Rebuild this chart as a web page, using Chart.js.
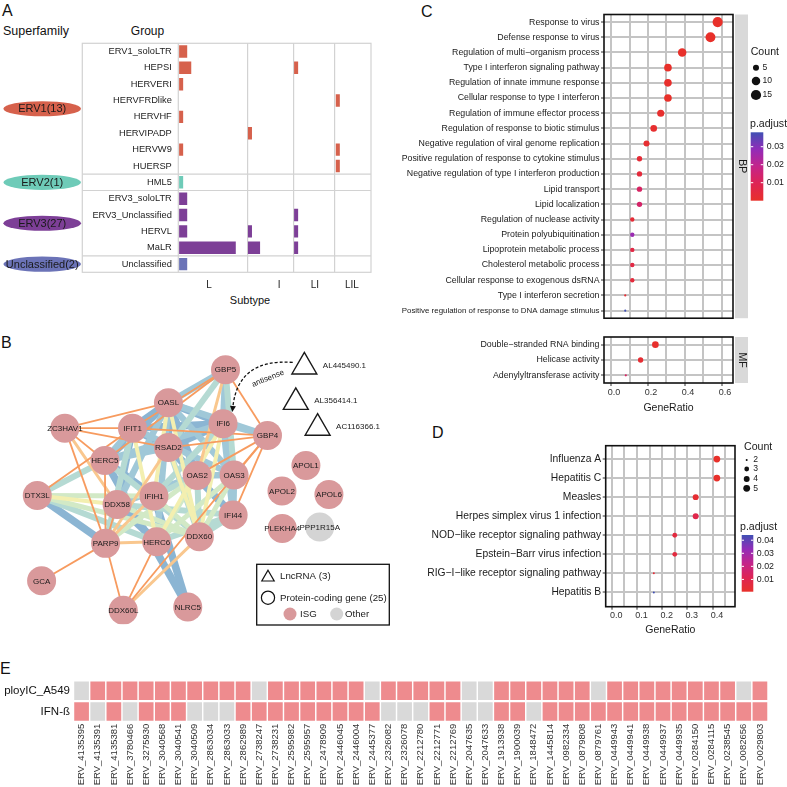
<!DOCTYPE html>
<html>
<head>
<meta charset="utf-8">
<script src="https://cdn.jsdelivr.net/npm/chart.js@4.4.1/dist/chart.umd.min.js"></script>
<style>
  body { margin: 0; background: #fff; }
  #page { position: relative; width: 787px; height: 787px; overflow: hidden; font-family: "Liberation Sans", Arial, sans-serif; color: #111; }
  #page canvas { position: absolute; }
  .txt { position: absolute; white-space: nowrap; line-height: 1; }
</style>
</head>
<body>
<div id="page">
  <div class="txt" style="left:2px;top:3px;font-size:16px">A</div>
  <div class="txt" style="left:3px;top:25px;font-size:12.5px">Superfamily</div>
  <div class="txt" style="left:147.5px;top:25px;font-size:12px;transform:translateX(-50%)">Group</div>
  <div class="txt" style="left:250px;top:294.5px;font-size:11px;transform:translateX(-50%)">Subtype</div>
  <div class="txt" style="left:1px;top:335px;font-size:16px">B</div>
  <div class="txt" style="left:421px;top:4px;font-size:16px">C</div>
  <div class="txt" style="left:432px;top:425px;font-size:16px">D</div>
  <div class="txt" style="left:0px;top:661px;font-size:16px">E</div>

  <canvas id="chartA" width="400" height="310" style="left:0;top:0"></canvas>
  <canvas id="chartB" width="400" height="310" style="left:0;top:330px"></canvas>
  <canvas id="chartC1" width="387" height="325" style="left:400px;top:0"></canvas>
  <canvas id="chartC2" width="387" height="95" style="left:400px;top:325px"></canvas>
  <canvas id="chartD" width="387" height="215" style="left:400px;top:425px"></canvas>
  <canvas id="chartE" width="787" height="132" style="left:0;top:655px"></canvas>
</div>
<script>
// ---------- A: ERV groups by subtype
const groupNames = ['ERV1_soloLTR', 'HEPSI', 'HERVERI', 'HERVFRDlike', 'HERVHF', 'HERVIPADP', 'HERVW9', 'HUERSP',
  'HML5', 'ERV3_soloLTR', 'ERV3_Unclassified', 'HERVL', 'MaLR', 'Unclassified'];
const groupFamily = ['ERV1', 'ERV1', 'ERV1', 'ERV1', 'ERV1', 'ERV1', 'ERV1', 'ERV1',
  'ERV2', 'ERV3', 'ERV3', 'ERV3', 'ERV3', 'Unclassified'];
const familyNames = ['ERV1', 'ERV2', 'ERV3', 'Unclassified'];
const familyTotals = [13, 1, 27, 2];
const subtypeNames = ['L', 'I', 'LI', 'LIL'];
const countL = [2, 3, 1, 0, 1, 0, 1, 0, 1, 2, 2, 2, 14, 2];
const countI = [0, 0, 0, 0, 0, 1, 0, 0, 0, 0, 0, 1, 3, 0];
const countLI = [0, 1, 0, 0, 0, 0, 0, 0, 0, 0, 1, 1, 1, 0];
const countLIL = [0, 0, 0, 1, 0, 0, 1, 1, 0, 0, 0, 0, 0, 0];

// ---------- B: interaction network
const geneNames = ['GBP5', 'OASL', 'IFI6', 'GBP4', 'ZC3HAV1', 'IFIT1', 'RSAD2', 'HERC5', 'OAS2', 'OAS3', 'DTX3L',
  'DDX58', 'IFIH1', 'IFI44', 'DDX60', 'HERC6', 'PARP9', 'GCA', 'DDX60L', 'NLRC5', 'APOL1', 'APOL2', 'APOL6',
  'PLEKHA4', 'PPP1R15A'];
const geneX = [227.7, 165.7, 225, 273.3, 53.3, 126.7, 165.7, 96.7, 197, 237, 23.3, 110, 150, 236, 199.3, 153,
  97.5, 28, 116.7, 186.7, 315, 289, 340, 289.3, 330];
const geneY = [356.7, 393.3, 416.7, 430, 421.7, 421.7, 443.3, 457.7, 474.3, 474, 496.7, 506.7, 497.3, 518.5,
  542.5, 548.3, 550, 591.7, 624.5, 620.8, 463.3, 491.7, 495.7, 533.3, 531.7];
const geneKind = ['ISG', 'ISG', 'ISG', 'ISG', 'ISG', 'ISG', 'ISG', 'ISG', 'ISG', 'ISG', 'ISG', 'ISG', 'ISG', 'ISG',
  'ISG', 'ISG', 'ISG', 'ISG', 'ISG', 'ISG', 'ISG', 'ISG', 'ISG', 'ISG', 'Other'];
const lncNames = ['AL445490.1', 'AL356414.1', 'AC116366.1'];
const lncX = [313.3, 304, 327.7];
const lncY = [353.4, 392.8, 421.6];
// edges grouped from weakest (0) to strongest (6) score
const edgeTier0 = [['ZC3HAV1', 'OASL'], ['ZC3HAV1', 'IFIT1'], ['ZC3HAV1', 'RSAD2'], ['ZC3HAV1', 'HERC5'],
  ['ZC3HAV1', 'PARP9'], ['GBP5', 'GBP4'], ['GBP5', 'IFIT1'], ['GBP5', 'HERC5'], ['GBP4', 'IFIT1'], ['GBP4', 'RSAD2'],
  ['GBP4', 'OAS3'], ['GBP4', 'IFI44'], ['GBP4', 'DDX60L'], ['GBP4', 'OAS2'], ['PARP9', 'GCA'], ['PARP9', 'DDX60L'],
  ['PARP9', 'HERC5'], ['PARP9', 'DDX58'], ['HERC6', 'DDX60L'], ['DTX3L', 'IFIT1']];
const edgeTier1 = [['PARP9', 'HERC6'], ['PARP9', 'RSAD2'], ['ZC3HAV1', 'DDX58'], ['DDX60L', 'DDX60'], ['GBP5', 'OAS2'],
  ['PARP9', 'IFIH1']];
const edgeTier2 = [['OASL', 'IFIH1'], ['RSAD2', 'DDX60'], ['IFI6', 'HERC6'], ['OASL', 'DDX60'], ['DTX3L', 'DDX58'],
  ['IFI6', 'DDX60'], ['IFIT1', 'HERC6']];
const edgeTier3 = [['DTX3L', 'IFIH1'], ['DTX3L', 'DDX60'], ['DDX60', 'IFIH1'], ['DDX60', 'OAS3'], ['HERC6', 'OAS2'],
  ['PARP9', 'OAS2'], ['DDX60', 'DDX58'], ['HERC6', 'OAS3']];
const edgeTier4 = [['GBP5', 'OAS3'], ['GBP5', 'RSAD2'], ['DTX3L', 'HERC5'], ['DTX3L', 'HERC6'], ['DDX60', 'IFI44'],
  ['DDX60', 'OAS2'], ['DDX60', 'HERC5'], ['DDX60', 'RSAD2'], ['IFIH1', 'OAS2'], ['HERC6', 'IFI44'], ['PARP9', 'IFIT1'],
  ['IFIH1', 'IFI6'], ['DDX58', 'IFI44']];
const edgeTier5 = [['GBP5', 'OASL'], ['GBP5', 'IFI6'], ['IFI6', 'GBP4'], ['OASL', 'GBP4'], ['HERC5', 'IFI6'],
  ['HERC5', 'RSAD2'], ['OASL', 'OAS3'], ['IFI6', 'IFI44'], ['OAS2', 'OAS3'], ['OAS3', 'IFI44'], ['IFIT1', 'HERC5'],
  ['OASL', 'DDX58'], ['DDX58', 'OAS2'], ['HERC6', 'OASL'], ['IFIT1', 'OAS3']];
const edgeTier6 = [['OASL', 'IFI6'], ['OASL', 'RSAD2'], ['OASL', 'IFIT1'], ['OASL', 'HERC5'], ['IFIT1', 'IFI6'],
  ['IFIT1', 'RSAD2'], ['IFIT1', 'DDX58'], ['RSAD2', 'IFI6'], ['RSAD2', 'OAS2'], ['IFI6', 'OAS3'], ['OASL', 'OAS2'],
  ['DTX3L', 'PARP9'], ['HERC5', 'NLRC5'], ['IFIH1', 'NLRC5'], ['HERC5', 'IFIH1'], ['DDX58', 'HERC6'], ['RSAD2', 'IFI44']];

// ---------- C: GO enrichment
const bpTerms = ['Response to virus', 'Defense response to virus', 'Regulation of multi\u2212organism process',
  'Type I interferon signaling pathway', 'Regulation of innate immune response',
  'Cellular response to type I interferon', 'Regulation of immune effector process',
  'Regulation of response to biotic stimulus', 'Negative regulation of viral genome replication',
  'Positive regulation of response to cytokine stimulus', 'Negative regulation of type I interferon production',
  'Lipid transport', 'Lipid localization', 'Regulation of nuclease activity', 'Protein polyubiquitination',
  'Lipoprotein metabolic process', 'Cholesterol metabolic process', 'Cellular response to exogenous dsRNA',
  'Type I interferon secretion', 'Positive regulation of response to DNA damage stimulus'];
const bpRatio = [0.577, 0.538, 0.385, 0.308, 0.308, 0.308, 0.269, 0.231, 0.192, 0.154, 0.154, 0.154, 0.154,
  0.115, 0.115, 0.115, 0.115, 0.115, 0.077, 0.077];
const bpCount = [15, 14, 10, 8, 8, 8, 7, 6, 5, 4, 4, 4, 4, 3, 3, 3, 3, 3, 2, 2];
const bpPadj = [1e-9, 1e-8, 2e-5, 1e-6, 4e-4, 1e-6, 8e-4, 0.0012, 0.0015, 0.003, 0.004, 0.012, 0.013, 0.003,
  0.027, 0.006, 0.006, 0.004, 0.002, 0.038];
const mfTerms = ['Double\u2212stranded RNA binding', 'Helicase activity', 'Adenylyltransferase activity'];
const mfRatio = [0.24, 0.16, 0.08];
const mfCount = [6, 4, 2];
const mfPadj = [5e-4, 0.002, 0.012];
const goRatioTicks = [0, 0.1, 0.2, 0.3, 0.4, 0.5, 0.6];
const goCountBreaks = [5, 10, 15];
const goPadjBreaks = [0.01, 0.02, 0.03];

// ---------- D: KEGG enrichment
const keggTerms = ['Influenza A', 'Hepatitis C', 'Measles', 'Herpes simplex virus 1 infection',
  'NOD\u2212like receptor signaling pathway', 'Epstein\u2212Barr virus infection',
  'RIG\u2212I\u2212like receptor signaling pathway', 'Hepatitis B'];
const keggRatio = [0.417, 0.417, 0.333, 0.333, 0.25, 0.25, 0.167, 0.167];
const keggCount = [5, 5, 4, 4, 3, 3, 2, 2];
const keggPadj = [6e-4, 8e-4, 0.003, 0.009, 0.006, 0.006, 0.004, 0.044];
const keggRatioTicks = [0, 0.05, 0.1, 0.15, 0.2, 0.25, 0.3, 0.35, 0.4, 0.45];
const keggCountBreaks = [2, 3, 4, 5];
const keggPadjBreaks = [0.01, 0.02, 0.03, 0.04];

// ---------- E: ERV induction
const ervIds = ['ERV_4135395', 'ERV_4135391', 'ERV_4135381', 'ERV_3780466', 'ERV_3275930', 'ERV_3040568',
  'ERV_3040541', 'ERV_3040509', 'ERV_2863034', 'ERV_2863033', 'ERV_2862989', 'ERV_2738247', 'ERV_2738231',
  'ERV_2595982', 'ERV_2595957', 'ERV_2478909', 'ERV_2446045', 'ERV_2446004', 'ERV_2445377', 'ERV_2326082',
  'ERV_2326078', 'ERV_2212780', 'ERV_2212771', 'ERV_2212769', 'ERV_2047635', 'ERV_2047633', 'ERV_1913938',
  'ERV_1900039', 'ERV_1848472', 'ERV_1445814', 'ERV_0982334', 'ERV_0879808', 'ERV_0879761', 'ERV_0449943',
  'ERV_0449941', 'ERV_0449938', 'ERV_0449937', 'ERV_0449935', 'ERV_0284150', 'ERV_0284115', 'ERV_0238545',
  'ERV_0082656', 'ERV_0029803'];
const conditionNames = ['ployIC_A549', 'IFN-ß'];
const polyICHit = [0, 1, 1, 1, 1, 1, 1, 1, 1, 1, 1, 0, 1, 1, 1, 1, 1, 1, 0, 1, 1, 1, 1, 1, 0, 0, 1, 1, 1, 1, 1, 1,
  0, 1, 1, 1, 1, 1, 1, 1, 1, 0, 1];
const ifnbHit = [1, 0, 1, 0, 1, 1, 1, 0, 0, 0, 1, 1, 1, 1, 1, 1, 1, 1, 1, 0, 0, 0, 1, 1, 0, 0, 1, 1, 0, 1, 1, 1,
  1, 1, 1, 1, 1, 1, 1, 1, 1, 1, 1];

// ---------- shared setup
const FONT = "'Liberation Sans', Arial, sans-serif";
Chart.defaults.font.family = FONT;
Chart.defaults.color = '#1a1a1a';
Chart.defaults.animation = false;
Chart.defaults.responsive = false;
Chart.defaults.events = [];
Chart.defaults.plugins.legend.display = false;
Chart.defaults.plugins.tooltip.enabled = false;

const padjStops = [[0, [232, 48, 42]], [0.25, [222, 36, 84]], [0.5, [196, 36, 138]], [0.75, [146, 44, 184]],
  [1, [64, 80, 180]]];
function padjColor(t) {
  t = Math.max(0, Math.min(1, t));
  for (let i = 1; i < padjStops.length; i++) {
    const [t1, c1] = padjStops[i];
    if (t <= t1) {
      const [t0, c0] = padjStops[i - 1];
      const f = (t - t0) / (t1 - t0);
      return 'rgb(' + c0.map((v, k) => Math.round(v + (c1[k] - v) * f)).join(',') + ')';
    }
  }
  return 'rgb(' + padjStops[padjStops.length - 1][1].join(',') + ')';
}

const measureCtx = document.createElement('canvas').getContext('2d');
function fitSize(text, size, maxW) {
  measureCtx.font = size + 'px ' + FONT;
  const w = measureCtx.measureText(text || '').width;
  return w > maxW ? size * maxW / w : size;
}

// area-style size scale, like ggplot's scale_size
function makeSize(cLo, cHi, rMin, rMax) {
  return c => rMin + Math.sqrt((c - cLo) / (cHi - cLo)) * (rMax - rMin);
}

// ---------- A
const familyColors = { ERV1: '#d6614c', ERV2: '#6ecbb8', ERV3: '#7d3f97', Unclassified: '#6b73b7' };
const facetEdges = [0, 17, 28.4, 38.7, 47.6];
const facetLabelAt = [7.6, 24.9, 33.75, 42.9];

const frameA = {
  id: 'frameA',
  beforeDatasetsDraw(chart) {
    const { ctx, chartArea: ca, scales: { y } } = chart;
    const left = y.left;
    ctx.save();
    ctx.strokeStyle = '#d2d2d2';
    ctx.lineWidth = 1.2;
    ctx.strokeRect(left, ca.top, ca.right - left, ca.bottom - ca.top);
    ctx.beginPath();
    ctx.moveTo(ca.left, ca.top);
    ctx.lineTo(ca.left, ca.bottom);
    groupFamily.forEach((f, i) => {
      if (i > 0 && f !== groupFamily[i - 1]) {
        const py = (y.getPixelForValue(i - 1) + y.getPixelForValue(i)) / 2;
        ctx.moveTo(left, py);
        ctx.lineTo(ca.right, py);
      }
    });
    ctx.stroke();
    ctx.restore();
  },
  afterDraw(chart) {
    const { ctx, scales: { y } } = chart;
    ctx.save();
    familyNames.forEach((f, k) => {
      const rows = groupFamily.map((g, i) => g === f ? i : -1).filter(i => i >= 0);
      const cy = (y.getPixelForValue(rows[0]) + y.getPixelForValue(rows[rows.length - 1])) / 2;
      ctx.beginPath();
      ctx.ellipse(42.2, cy, 38.8, 7.6, 0, 0, Math.PI * 2);
      ctx.fillStyle = familyColors[f];
      ctx.fill();
      ctx.fillStyle = '#1a1a1a';
      ctx.font = '11px ' + FONT;
      ctx.textAlign = 'center';
      ctx.textBaseline = 'middle';
      ctx.fillText(f + '(' + familyTotals[k] + ')', 42.2, cy + 0.5);
    });
    ctx.restore();
  }
};

new Chart(document.getElementById('chartA'), {
  type: 'bar',
  data: {
    labels: groupNames,
    datasets: [countL, countI, countLI, countLIL].map((cnt, k) => ({
      label: subtypeNames[k],
      data: cnt.map(c => c > 0 ? [facetEdges[k] + 0.2, facetEdges[k] + 0.2 + c] : null),
      backgroundColor: groupFamily.map(f => familyColors[f]),
      borderWidth: 0,
      grouped: false,
      barPercentage: 0.76,
      categoryPercentage: 1
    }))
  },
  options: {
    indexAxis: 'y',
    layout: { padding: { left: 82.3, top: 43.3, right: 29, bottom: 7.7 } },
    scales: {
      x: {
        type: 'linear', bounds: 'data', min: 0, max: 47.6,
        afterBuildTicks: s => {
          s.ticks = facetEdges.slice(1, 4).concat(facetLabelAt).sort((a, b) => a - b).map(v => ({ value: v }));
        },
        afterFit: s => { s.height = 30; },
        border: { display: false },
        grid: {
          drawTicks: false, lineWidth: 1.2,
          color: c => c.tick && facetEdges.includes(c.tick.value) ? '#d2d2d2' : 'rgba(0,0,0,0)'
        },
        ticks: {
          autoSkip: false, maxRotation: 0, padding: 7, font: { size: 10 }, color: '#222',
          callback: v => { const k = facetLabelAt.indexOf(v); return k >= 0 ? subtypeNames[k] : ''; }
        }
      },
      y: {
        type: 'category',
        afterFit: s => { s.width = 96; },
        border: { display: false },
        grid: { display: false, drawTicks: false },
        ticks: { autoSkip: false, padding: 6.5, font: { size: 9.3 }, color: '#222' }
      }
    }
  },
  plugins: [frameA]
});

// ---------- B
const edgeTiers = [edgeTier0, edgeTier1, edgeTier2, edgeTier3, edgeTier4, edgeTier5, edgeTier6];
const tierStyle = [
  { color: '#f79b5f', width: 1.8 },
  { color: '#f9c78e', width: 3 },
  { color: '#f3efb0', width: 4 },
  { color: '#d2e9c6', width: 5 },
  { color: '#b5dad3', width: 6 },
  { color: '#a0c8d8', width: 6.5 },
  { color: '#8bb5d3', width: 7.5 }
];
const geneAt = name => {
  const i = geneNames.indexOf(name);
  return { x: geneX[i], y: geneY[i] };
};
const edgeSets = edgeTiers.flatMap((tier, level) => tier.map(([a, b]) => ({
  type: 'line',
  data: [geneAt(a), geneAt(b)],
  borderColor: tierStyle[level].color,
  borderWidth: tierStyle[level].width,
  pointRadius: 0,
  tension: 0,
  order: 10 + level
})));

const netDecor = {
  id: 'netDecor',
  afterDatasetsDraw(chart) {
    const { ctx, scales: { x, y } } = chart;
    ctx.save();
    ctx.fillStyle = '#1a1a1a';
    ctx.font = '8px ' + FONT;
    ctx.textAlign = 'center';
    ctx.textBaseline = 'middle';
    geneNames.forEach((g, i) => ctx.fillText(g, x.getPixelForValue(geneX[i]), y.getPixelForValue(geneY[i]) + 0.5));
    ctx.textAlign = 'left';
    lncNames.forEach((g, i) => ctx.fillText(g, x.getPixelForValue(lncX[i]) + 18.5, y.getPixelForValue(lncY[i]) - 1.5));

    // antisense link: first lncRNA -> IFI6
    const t = geneNames.indexOf('IFI6');
    const sx = x.getPixelForValue(lncX[0]) - 11.6, sy = y.getPixelForValue(lncY[0]) - 4.4;
    const ex = x.getPixelForValue(geneX[t]) + 9.3, ey = y.getPixelForValue(geneY[t]) - 11.7;
    const cx = ex + 5.7, cy = sy - 4;
    const ang = Math.atan2(ey - cy, ex - cx);
    ctx.strokeStyle = '#111';
    ctx.lineWidth = 1.3;
    ctx.setLineDash([3, 2]);
    ctx.beginPath();
    ctx.moveTo(sx, sy);
    ctx.quadraticCurveTo(cx, cy, ex - 5 * Math.cos(ang), ey - 5 * Math.sin(ang));
    ctx.stroke();
    ctx.setLineDash([]);
    ctx.fillStyle = '#111';
    ctx.beginPath();
    ctx.moveTo(ex, ey);
    ctx.lineTo(ex - 6 * Math.cos(ang) + 3 * Math.sin(ang), ey - 6 * Math.sin(ang) - 3 * Math.cos(ang));
    ctx.lineTo(ex - 6 * Math.cos(ang) - 3 * Math.sin(ang), ey - 6 * Math.sin(ang) + 3 * Math.cos(ang));
    ctx.closePath();
    ctx.fill();
    const mx = 0.25 * sx + 0.5 * cx + 0.25 * ex, my = 0.25 * sy + 0.5 * cy + 0.25 * ey;
    ctx.save();
    ctx.translate(mx + 17.7, my + 5.7);
    ctx.rotate(-0.38);
    ctx.textAlign = 'center';
    ctx.fillStyle = '#1a1a1a';
    ctx.font = '8px ' + FONT;
    ctx.fillText('antisense', 0, 0);
    ctx.restore();

    // legend box
    ctx.strokeStyle = '#111';
    ctx.lineWidth = 1.3;
    ctx.strokeRect(256.7, 234.3, 132.6, 60.7);
    ctx.lineWidth = 1.2;
    ctx.beginPath();
    ctx.moveTo(268, 240.3);
    ctx.lineTo(274.2, 251);
    ctx.lineTo(261.8, 251);
    ctx.closePath();
    ctx.stroke();
    ctx.beginPath();
    ctx.arc(268, 267.7, 6.6, 0, Math.PI * 2);
    ctx.stroke();
    ctx.fillStyle = '#d9999b';
    ctx.beginPath();
    ctx.arc(290, 284, 6.5, 0, Math.PI * 2);
    ctx.fill();
    ctx.fillStyle = '#d4d4d4';
    ctx.beginPath();
    ctx.arc(336.7, 284, 6.5, 0, Math.PI * 2);
    ctx.fill();
    ctx.fillStyle = '#1a1a1a';
    ctx.font = '9.7px ' + FONT;
    ctx.textAlign = 'left';
    ctx.fillText('LncRNA (3)', 280, 246.5);
    ctx.fillText('Protein-coding gene (25)', 280, 268);
    ctx.fillText('ISG', 300, 284.5);
    ctx.fillText('Other', 345, 284.5);
    ctx.restore();
  }
};

new Chart(document.getElementById('chartB'), {
  type: 'scatter',
  data: {
    datasets: [
      {
        data: geneNames.map((g, i) => ({ x: geneX[i], y: geneY[i] })),
        pointRadius: 14.5,
        pointBackgroundColor: geneKind.map(k => k === 'ISG' ? '#d9999b' : '#d4d4d4'),
        pointBorderWidth: 0,
        order: 0
      },
      {
        data: lncNames.map((g, i) => ({ x: lncX[i], y: lncY[i] })),
        pointStyle: 'triangle',
        pointRadius: 14.4,
        pointBackgroundColor: 'rgba(255,255,255,0)',
        pointBorderColor: '#1a1a1a',
        pointBorderWidth: 1.4,
        order: 0
      },
      ...edgeSets
    ]
  },
  options: {
    layout: { padding: 0 },
    scales: {
      x: { type: 'linear', min: 0, max: 400, display: false },
      y: { type: 'linear', min: 330, max: 640, reverse: true, display: false }
    }
  },
  plugins: [netDecor]
});

// ---------- C & D dot plots
function framePlugin(strip) {
  return {
    id: 'frame',
    afterDraw(chart) {
      const { ctx, chartArea: ca } = chart;
      ctx.save();
      ctx.strokeStyle = '#111';
      ctx.lineWidth = 1.6;
      ctx.strokeRect(ca.left, ca.top, ca.right - ca.left, ca.bottom - ca.top);
      if (strip) {
        ctx.fillStyle = '#d9d9d9';
        ctx.fillRect(ca.right + 2, ca.top, 13, ca.bottom - ca.top);
        ctx.translate(ca.right + 8.5, (ca.top + ca.bottom) / 2);
        ctx.rotate(Math.PI / 2);
        ctx.fillStyle = '#1a1a1a';
        ctx.font = '10.5px ' + FONT;
        ctx.textAlign = 'center';
        ctx.textBaseline = 'middle';
        ctx.fillText(strip, 0, 0);
      }
      ctx.restore();
    }
  };
}

function legendPlugin(L) {
  return {
    id: 'dotLegend',
    afterDraw(chart) {
      const ctx = chart.ctx;
      ctx.save();
      ctx.textBaseline = 'middle';
      ctx.textAlign = 'left';
      ctx.fillStyle = '#1a1a1a';
      ctx.font = '10.6px ' + FONT;
      ctx.fillText('Count', L.countTitle[0], L.countTitle[1]);
      ctx.fillText('p.adjust', L.padjTitle[0], L.padjTitle[1]);
      ctx.font = '8.6px ' + FONT;
      L.counts.forEach((c, i) => {
        ctx.fillStyle = '#111';
        ctx.beginPath();
        ctx.arc(L.dotX, L.dotY[i], L.sizeOf(c), 0, Math.PI * 2);
        ctx.fill();
        ctx.fillStyle = '#1a1a1a';
        ctx.fillText(String(c), L.labelX, L.dotY[i]);
      });
      const b = L.bar;
      const g = ctx.createLinearGradient(0, b.y + b.h, 0, b.y);
      padjStops.forEach(([t, c]) => g.addColorStop(t, 'rgb(' + c.join(',') + ')'));
      ctx.fillStyle = g;
      ctx.fillRect(b.x, b.y, b.w, b.h);
      ctx.strokeStyle = '#fff';
      ctx.lineWidth = 1;
      ctx.fillStyle = '#1a1a1a';
      ctx.font = '8.8px ' + FONT;
      L.breaks.forEach(v => {
        const py = b.y + b.h - (v - L.lo) / (L.hi - L.lo) * b.h;
        ctx.beginPath();
        ctx.moveTo(b.x, py); ctx.lineTo(b.x + b.w * 0.2, py);
        ctx.moveTo(b.x + b.w * 0.8, py); ctx.lineTo(b.x + b.w, py);
        ctx.stroke();
        ctx.fillText(v.toFixed(2), b.x + b.w + 3.5, py);
      });
      ctx.restore();
    }
  };
}

function dotPlot(canvasId, cfg) {
  const onStep = (v, step) => Math.abs(v / step - Math.round(v / step)) < 1e-6;
  const plugins = [framePlugin(cfg.strip)];
  if (cfg.legend) plugins.push(legendPlugin(cfg.legend));
  return new Chart(document.getElementById(canvasId), {
    type: 'scatter',
    data: {
      datasets: [{
        data: cfg.ratio.map((r, i) => ({ x: r, y: i })),
        pointRadius: cfg.count.map(cfg.sizeOf),
        pointBackgroundColor: cfg.padj.map(p => padjColor((p - cfg.pLo) / (cfg.pHi - cfg.pLo))),
        pointBorderWidth: 0
      }]
    },
    options: {
      layout: { padding: cfg.padding },
      scales: {
        x: {
          type: 'linear', bounds: 'data', min: cfg.xMin, max: cfg.xMax,
          afterBuildTicks: s => { s.ticks = cfg.xGrid.map(v => ({ value: v })); },
          afterFit: s => { s.height = cfg.xHeight; },
          border: { display: false },
          grid: {
            color: '#c4c4c4', lineWidth: 2, drawTicks: cfg.showX, tickLength: 3, tickWidth: 1,
            tickColor: c => c.tick && onStep(c.tick.value, cfg.labelStep) ? '#333' : 'rgba(0,0,0,0)'
          },
          ticks: {
            display: cfg.showX, autoSkip: false, maxRotation: 0, padding: cfg.xPad, labelOffset: cfg.labelOffset,
            font: { size: 9 }, color: '#333',
            callback: v => onStep(v, cfg.labelStep) ? v.toFixed(1) : ''
          },
          title: {
            display: cfg.showX, text: 'GeneRatio', font: { size: 10.5 }, color: '#1a1a1a',
            padding: { top: 0, bottom: cfg.titlePad }
          }
        },
        y: {
          type: 'linear', bounds: 'data', reverse: true, min: cfg.yMin, max: cfg.yMax,
          afterBuildTicks: s => { s.ticks = cfg.terms.map((t, i) => ({ value: i })); },
          afterFit: s => { s.width = cfg.yWidth; },
          border: { display: false },
          grid: { color: '#c4c4c4', lineWidth: 2, tickLength: 3, tickWidth: 1, tickColor: '#333' },
          ticks: {
            autoSkip: false, padding: 1.5, color: '#1a1a1a',
            font: c => ({ size: fitSize(cfg.terms[c.tick ? c.tick.value : 0], cfg.fontSize, cfg.yWidth - 6) }),
            callback: v => cfg.terms[v]
          }
        }
      }
    },
    plugins
  });
}

const goSize = makeSize(2, 15, 1.1, 5.1);
const goLo = Math.min(...bpPadj, ...mfPadj), goHi = Math.max(...bpPadj, ...mfPadj);
const goBase = {
  sizeOf: goSize, pLo: goLo, pHi: goHi, xMin: -0.038, xMax: 0.66, xGrid: goRatioTicks, labelStep: 0.2,
  labelOffset: 3, yWidth: 204, fontSize: 8.8
};

dotPlot('chartC1', Object.assign({}, goBase, {
  terms: bpTerms, ratio: bpRatio, count: bpCount, padj: bpPadj,
  yMin: -0.5, yMax: 19.5, showX: false, xHeight: 0, xPad: 0, titlePad: 0,
  padding: { left: 0, top: 14.5, right: 54, bottom: 6.7 }, strip: 'BP',
  legend: {
    sizeOf: goSize, counts: goCountBreaks, countTitle: [350.7, 52], dotX: 356, dotY: [67.7, 81, 95], labelX: 362.5,
    padjTitle: [350, 124], bar: { x: 350.7, y: 132.3, w: 12.6, h: 68.4 }, lo: goLo, hi: goHi, breaks: goPadjBreaks
  }
}));

dotPlot('chartC2', Object.assign({}, goBase, {
  terms: mfTerms, ratio: mfRatio, count: mfCount, padj: mfPadj,
  yMin: -0.5, yMax: 2.5, showX: true, xHeight: 35, xPad: 1.3, titlePad: 4,
  padding: { left: 0, top: 12, right: 54, bottom: 2 }, strip: 'MF'
}));

const keggSize = makeSize(2, 5, 1.0, 3.4);
const keggLo = Math.min(...keggPadj), keggHi = Math.max(...keggPadj);
dotPlot('chartD', {
  terms: keggTerms, ratio: keggRatio, count: keggCount, padj: keggPadj,
  sizeOf: keggSize, pLo: keggLo, pHi: keggHi, xMin: -0.024, xMax: 0.489, xGrid: keggRatioTicks, labelStep: 0.1,
  labelOffset: 4.5, yWidth: 205.7, fontSize: 10.3,
  yMin: -0.7, yMax: 7.75, showX: true, xHeight: 33, xPad: 0, titlePad: 3.4,
  padding: { left: 0, top: 20.7, right: 52, bottom: 0.3 }, strip: null,
  legend: {
    sizeOf: keggSize, counts: keggCountBreaks, countTitle: [344, 22.3], dotX: 346.7, dotY: [35, 44, 54, 63.3],
    labelX: 353.3, padjTitle: [340, 102.3], bar: { x: 341.7, y: 110, w: 11.6, h: 56.7 }, lo: keggLo, hi: keggHi,
    breaks: keggPadjBreaks
  }
});

// ---------- E heatmap
const hitRows = [polyICHit, ifnbHit];
new Chart(document.getElementById('chartE'), {
  type: 'bar',
  data: {
    labels: ervIds,
    datasets: hitRows.map((row, r) => ({
      label: conditionNames[r],
      data: row.map(() => [r + 0.05, r + 0.95]),
      backgroundColor: row.map(v => v ? '#ee8b8e' : '#d9d9d9'),
      borderWidth: 0,
      grouped: false,
      barPercentage: 0.91,
      categoryPercentage: 1
    }))
  },
  options: {
    layout: { padding: { left: 0, top: 25.5, right: 19, bottom: 0 } },
    scales: {
      x: {
        type: 'category',
        afterFit: s => { s.height = 65.3; },
        border: { display: false },
        grid: { display: false, drawTicks: false },
        ticks: { autoSkip: false, minRotation: 90, maxRotation: 90, padding: 2, font: { size: 9.5 }, color: '#333' }
      },
      y: {
        type: 'linear', bounds: 'data', min: 0, max: 2, reverse: true,
        afterBuildTicks: s => { s.ticks = conditionNames.map((n, i) => ({ value: i + 0.5 })); },
        afterFit: s => { s.width = 73.5; },
        border: { display: false },
        grid: { display: false, drawTicks: false },
        ticks: { padding: 3.5, font: { size: 11.5 }, color: '#111', callback: v => conditionNames[Math.floor(v)] }
      }
    }
  }
});
</script>
</body>
</html>
